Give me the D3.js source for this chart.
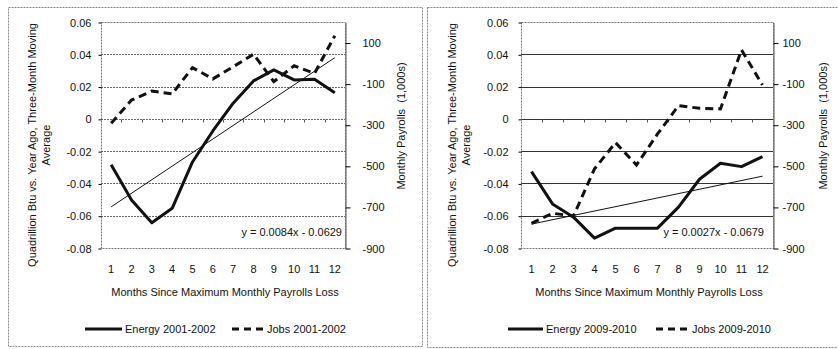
<!DOCTYPE html>
<html>
<head>
<meta charset="utf-8">
<script src="https://cdn.jsdelivr.net/npm/d3@7"></script>
<style>
  body { margin: 0; background: #fff; }
  svg { display: block; font-family: "Liberation Sans", Arial, sans-serif; }
  .tick text { font-size: 11px; fill: #111; }
</style>
</head>
<body>
<svg id="chart" width="838" height="349"></svg>
<script>
// months since maximum monthly payrolls loss
const months = [1, 2, 3, 4, 5, 6, 7, 8, 9, 10, 11, 12];

// quadrillion Btu vs year ago, three-month moving average
const energy2001 = [-0.0285, -0.0502, -0.0643, -0.0554, -0.0267, -0.0075, 0.0097, 0.0235, 0.0303, 0.0241, 0.0245, 0.0162];
const energy2009 = [-0.0327, -0.0527, -0.0609, -0.0739, -0.0677, -0.0677, -0.0677, -0.0547, -0.0374, -0.0275, -0.0296, -0.0234];

// monthly payrolls (1,000s)
const jobs2001 = [-293, -180, -136, -150, -22, -77, -18, 43, -90, -13, -50, 133];
const jobs2009 = [-780, -731, -744, -515, -387, -496, -345, -207, -220, -223, 64, -107];

// linear trend of energy: [slope, intercept]
const trend2001 = [0.0084, -0.0629];
const trend2009 = [0.0027, -0.0679];

const leftTicks  = [0.06, 0.04, 0.02, 0, -0.02, -0.04, -0.06, -0.08];
const gridTicks  = [0.04, 0.02, 0, -0.02, -0.04, -0.06];
const rightTicks = [100, -100, -300, -500, -700, -900];

const svg = d3.select("#chart");

const panels = [
  {
    frame: [8, 7, 414, 339],
    plot: [101, 345],
    energy: energy2001, jobs: jobs2001, trend: trend2001,
    energyName: "Energy 2001-2002", jobsName: "Jobs 2001-2002",
    leftPad: 7, rightPad: 12,
    yTitleX: [36, 50], y2TitleX: 405,
    legend: [85, 122, 232, 263],
    eqX: 342,
    grid: { stroke: "#666", dash: "2,1" }
  },
  {
    frame: [427, 7, 420, 340],
    plot: [521, 773],
    energy: energy2009, jobs: jobs2009, trend: trend2009,
    energyName: "Energy 2009-2010", jobsName: "Jobs 2009-2010",
    leftPad: 10, rightPad: 4,
    yTitleX: [456, 470], y2TitleX: 827,
    legend: [508, 543, 656, 688],
    eqX: 764,
    grid: { stroke: "#333", dash: null }
  }
];

const plotTop = 22, plotBottom = 248;

panels.forEach(p => {
  const g = svg.append("g");

  // outer frame
  g.append("rect")
    .attr("x", p.frame[0] + 0.5).attr("y", p.frame[1] + 0.5)
    .attr("width", p.frame[2]).attr("height", p.frame[3])
    .attr("fill", "none").attr("stroke", "#888")
    .attr("stroke-dasharray", "2,1");

  const x = d3.scaleBand().domain(months).range(p.plot);
  const y = d3.scaleLinear().domain([-0.08, 0.06]).range([plotBottom, plotTop]);
  const y2 = d3.scaleLinear().domain([-900, 200]).range([plotBottom, plotTop]);
  const cx = d => x(d) + x.bandwidth() / 2;

  // gridlines
  g.append("g").selectAll("line").data(gridTicks).join("line")
    .attr("x1", p.plot[0]).attr("x2", p.plot[1])
    .attr("y1", d => Math.round(y(d)) + 0.5).attr("y2", d => Math.round(y(d)) + 0.5)
    .attr("stroke", p.grid.stroke).attr("stroke-dasharray", p.grid.dash);

  // plot border
  g.append("rect")
    .attr("x", p.plot[0] + 0.5).attr("y", plotTop + 0.5)
    .attr("width", p.plot[1] - p.plot[0]).attr("height", plotBottom - plotTop)
    .attr("fill", "none").attr("stroke", "#777").attr("stroke-dasharray", "2,1");

  // left axis
  const yAxis = g.append("g")
    .attr("transform", `translate(${p.plot[0] + 0.5},0.5)`)
    .call(d3.axisLeft(y).tickValues(leftTicks).tickSize(3).tickSizeOuter(0)
      .tickPadding(p.leftPad)
      .tickFormat(d => d === 0 ? "0" : d.toFixed(2)));
  yAxis.select(".domain").remove();

  // right axis
  const y2Axis = g.append("g")
    .attr("transform", `translate(${p.plot[1] + 0.5},0.5)`)
    .call(d3.axisRight(y2).tickValues(rightTicks).tickSize(5).tickSizeOuter(0)
      .tickPadding(p.rightPad).tickFormat(d => String(d)));
  y2Axis.select(".domain").attr("stroke", "#555");

  // category axis crossing at zero, labels at bottom
  const x0 = Math.round(y(0)) + 0.5;
  g.append("g").selectAll("line").data(months.slice(1)).join("line")
    .attr("x1", d => Math.round(x(d)) + 0.5).attr("x2", d => Math.round(x(d)) + 0.5)
    .attr("y1", x0).attr("y2", x0 + 3)
    .attr("stroke", "#555");
  g.append("g").selectAll("text").data(months).join("text")
    .attr("x", cx).attr("y", 273)
    .attr("text-anchor", "middle").attr("font-size", 11).attr("fill", "#111")
    .text(d => d);

  // axis titles
  const yTitle = ["Quadrillion Btu vs. Year Ago, Three-Month Moving", "Average"];
  yTitle.forEach((t, i) => {
    g.append("text")
      .attr("transform", `translate(${p.yTitleX[i]},145) rotate(-90)`)
      .attr("text-anchor", "middle").attr("font-size", 11).attr("fill", "#111")
      .text(t);
  });
  g.append("text")
    .attr("transform", `translate(${p.y2TitleX},126) rotate(-90)`)
    .attr("text-anchor", "middle").attr("font-size", 11).attr("fill", "#111")
    .attr("xml:space", "preserve")
    .text("Monthly Payrolls  (1,000s)");
  g.append("text")
    .attr("x", (p.plot[0] + p.plot[1]) / 2 + 2).attr("y", 296)
    .attr("text-anchor", "middle").attr("font-size", 11).attr("fill", "#111")
    .text("Months Since Maximum Monthly Payrolls Loss");

  // trend line
  const first = months[0], last = months[months.length - 1];
  g.append("line")
    .attr("x1", cx(first)).attr("y1", y(p.trend[0] * first + p.trend[1]))
    .attr("x2", cx(last)).attr("y2", y(p.trend[0] * last + p.trend[1]))
    .attr("stroke", "#111").attr("stroke-width", 1);

  const fmt = v => v.toFixed(4);
  g.append("text")
    .attr("x", p.eqX).attr("y", 236)
    .attr("text-anchor", "end").attr("font-size", 11).attr("fill", "#111")
    .text(`y = ${fmt(p.trend[0])}x - ${fmt(-p.trend[1])}`);

  // series
  const lineE = d3.line().x((d, i) => cx(months[i])).y(d => y(d));
  const lineJ = d3.line().x((d, i) => cx(months[i])).y(d => y2(d));

  g.append("path").datum(p.jobs)
    .attr("d", lineJ).attr("fill", "none")
    .attr("stroke", "#111").attr("stroke-width", 3)
    .attr("stroke-dasharray", "8,5");

  g.append("path").datum(p.energy)
    .attr("d", lineE).attr("fill", "none")
    .attr("stroke", "#111").attr("stroke-width", 3)
    .attr("stroke-linejoin", "round");

  // legend
  const ly = 329;
  g.append("line")
    .attr("x1", p.legend[0]).attr("x2", p.legend[1]).attr("y1", ly).attr("y2", ly)
    .attr("stroke", "#111").attr("stroke-width", 3);
  g.append("text")
    .attr("x", p.legend[1] + 3).attr("y", ly + 4)
    .attr("font-size", 11).attr("fill", "#111").text(p.energyName);
  g.append("line")
    .attr("x1", p.legend[2]).attr("x2", p.legend[3]).attr("y1", ly).attr("y2", ly)
    .attr("stroke", "#111").attr("stroke-width", 3).attr("stroke-dasharray", "7,5");
  g.append("text")
    .attr("x", p.legend[3] + 4).attr("y", ly + 4)
    .attr("font-size", 11).attr("fill", "#111").text(p.jobsName);
});
</script>
</body>
</html>
